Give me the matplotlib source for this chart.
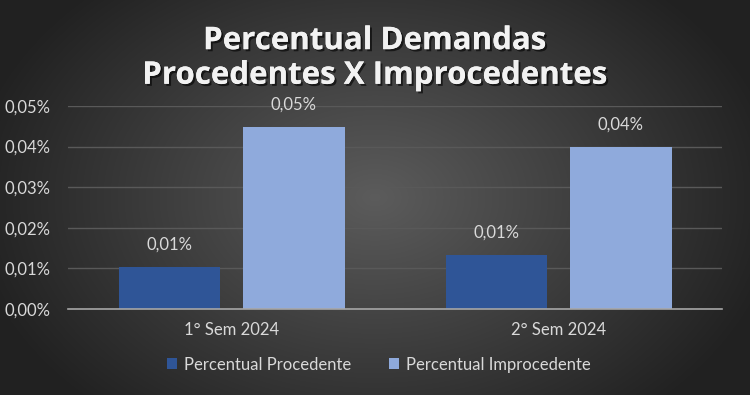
import matplotlib
matplotlib.use("Agg")
import matplotlib.pyplot as plt
import matplotlib.patheffects as pe
import numpy as np

categories = ["1° Sem 2024", "2° Sem 2024"]
procedente = [0.0104, 0.0133]
improcedente = [0.0449, 0.0400]
labels_proc = ["0,01%", "0,01%"]
labels_improc = ["0,05%", "0,04%"]
yticks = [0.0, 0.01, 0.02, 0.03, 0.04, 0.05]
ytick_labels = ["0,00%", "0,01%", "0,02%", "0,03%", "0,04%", "0,05%"]

plt.rcParams['font.family'] = ['Lato', 'DejaVu Sans']
txt = '#d9d9d9'

fig = plt.figure(figsize=(7.5, 3.95), dpi=100)

# radial gradient background
bg = fig.add_axes([0, 0, 1, 1], zorder=0)
gx, gy = np.meshgrid(np.linspace(-1, 1, 750), np.linspace(-1, 1, 395))
r = np.sqrt(gx**2 + (gy * 0.75)**2)
shade = np.clip(0.36 - 0.21 * r, 0.13, 0.36)
bg.imshow(np.dstack([shade, shade, shade]), aspect='auto', extent=[0, 1, 0, 1])
bg.axis('off')

ax = fig.add_axes([0.0907, 0.2177, 0.872, 0.5139], zorder=1)
ax.patch.set_alpha(0)

x = np.arange(len(categories))
w = 0.309
off = 0.191
b1 = ax.bar(x - off, procedente, w, color='#2F5597', label='Percentual Procedente', zorder=3)
b2 = ax.bar(x + off, improcedente, w, color='#8FAADC', label='Percentual Improcedente', zorder=3)

for bars, labs in [(b1, labels_proc), (b2, labels_improc)]:
    for rect, lab in zip(bars, labs):
        ax.annotate(lab, (rect.get_x() + rect.get_width() / 2, rect.get_height()),
                    xytext=(0, 16), textcoords='offset points', ha='center', va='center',
                    color=txt, fontsize=12)

ax.set_xlim(-0.5, 1.5)
ax.set_ylim(0, 0.05)
ax.set_yticks(yticks)
ax.set_yticklabels(ytick_labels, color=txt, fontsize=12)
ax.set_xticks(x)
ax.set_xticklabels(categories, color=txt, fontsize=12)
ax.tick_params(length=0)
ax.tick_params(axis='x', pad=9)
for lbl in ax.get_yticklabels():
    lbl.set_horizontalalignment('left')
ax.yaxis.set_tick_params(pad=46)
ax.grid(axis='y', color='#595959', linewidth=1, zorder=0)
for s in ['top', 'right', 'left']:
    ax.spines[s].set_visible(False)
ax.spines['bottom'].set_color('#a6a6a6')
ax.spines['bottom'].set_linewidth(1.2)
ax.spines['bottom'].set_zorder(4)

fig.text(0.5, 0.852, "Percentual Demandas\nProcedentes X Improcedentes", ha='center', va='center',
         color='#f2f2f2', fontsize=22.5, fontweight='bold', linespacing=1.2,
         family=['Open Sans', 'DejaVu Sans'],
         path_effects=[pe.withSimplePatchShadow(offset=(1.5, -1.5), shadow_rgbFace='black', alpha=0.6), pe.Normal()])

leg = fig.legend(loc='center', bbox_to_anchor=(0.505, 0.077), ncol=2, frameon=False,
                 fontsize=12, handlelength=0.6, handleheight=0.6, handletextpad=0.4, columnspacing=2.3)
for t in leg.get_texts():
    t.set_color(txt)

fig.savefig("out.png", dpi=100)
